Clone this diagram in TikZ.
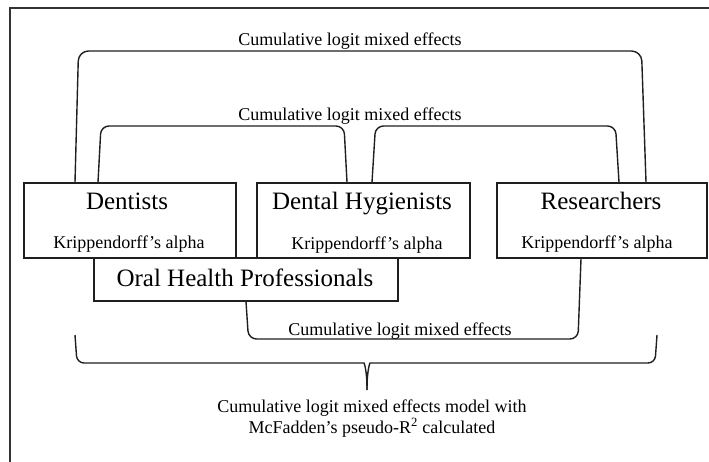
\documentclass[tikz,border=0pt]{standalone}
\usepackage{fontspec}
\setmainfont{Liberation Serif}
\begin{document}
\begin{tikzpicture}[x=1pt,y=-1pt,
  box/.style={draw=black!88, line width=1.6pt, fill=white, inner sep=0pt},
  big/.style={font=\fontsize{25}{30}\selectfont, inner sep=0pt},
  small/.style={font=\fontsize{18}{21}\selectfont, inner sep=0pt},
  link/.style={draw=black!88, line width=1.4pt, rounded corners=8pt}]
\useasboundingbox (0,0) rectangle (709,462);
% frame (only top and left edges visible)
\draw[line width=2.4pt, black!80] (10,475) -- (10,8) -- (725,8);

% boxes
\node[box, minimum width=212.5pt, minimum height=75pt] (dent) at (130,220.5) {};
\node[box, minimum width=213pt, minimum height=75pt] (hyg) at (363.5,220.5) {};
\node[box, minimum width=210pt, minimum height=75pt] (res) at (602,220.5) {};
\node[box, minimum width=304.5pt, minimum height=43pt] (ohp) at (246,279.5) {};

% box texts
\node[big, anchor=base] (dentT) at (127,210) {Dentists};
\node[small, anchor=base] (dentK) at (129,249) {Krippendorff’s alpha};
\node[big, anchor=base] (hygT) at (362,210) {Dental Hygienists};
\node[small, anchor=base] (hygK) at (367,250) {Krippendorff’s alpha};
\node[big, anchor=base] (resT) at (601,210) {Researchers};
\node[small, anchor=base] (resK) at (597,249) {Krippendorff’s alpha};
\node[big, anchor=base] (ohpT) at (245,287) {Oral Health Professionals};

% outer bracket Dentists -- Researchers
\draw[link, rounded corners=10pt] (75,0 |- dent.north) -- (78.5,51) -- (641.5,51) -- (646,0 |- res.north);
\node[small, anchor=base] (lblA) at (350,46) {Cumulative logit mixed effects};

% inner brackets
\draw[link] (98,0 |- dent.north) -- (101,126) -- (344,126) -- (347,0 |- hyg.north);
\draw[link] (372,0 |- hyg.north) -- (375.5,126) -- (615.5,126) -- (619,0 |- res.north);
\node[small, anchor=base] (lblB) at (350,121) {Cumulative logit mixed effects};

% bottom bracket OHP -- Researchers
\draw[link] (246,0 |- ohp.south) -- (248.5,339) -- (578,339) -- (581,0 |- res.south);
\node[small, anchor=base] (lblC) at (400,335) {Cumulative logit mixed effects};

% big brace
\coordinate (bl) at (75,335);
\coordinate (br) at (657,335);
\coordinate (tip) at (367,390);
\draw[link, rounded corners=7pt] (bl) -- (77,363) -- (357,363) .. controls (364,363) and (367,369) .. (tip);
\draw[link, rounded corners=7pt] (br) -- (655,363) -- (377,363) .. controls (370,363) and (367,369) .. (tip);

\node[small, anchor=base] (botA) at (372,412) {Cumulative logit mixed effects model with};
\node[small, anchor=base] (botB) at (372,433) {McFadden’s pseudo-R\textsuperscript{2} calculated};
\end{tikzpicture}
\end{document}
